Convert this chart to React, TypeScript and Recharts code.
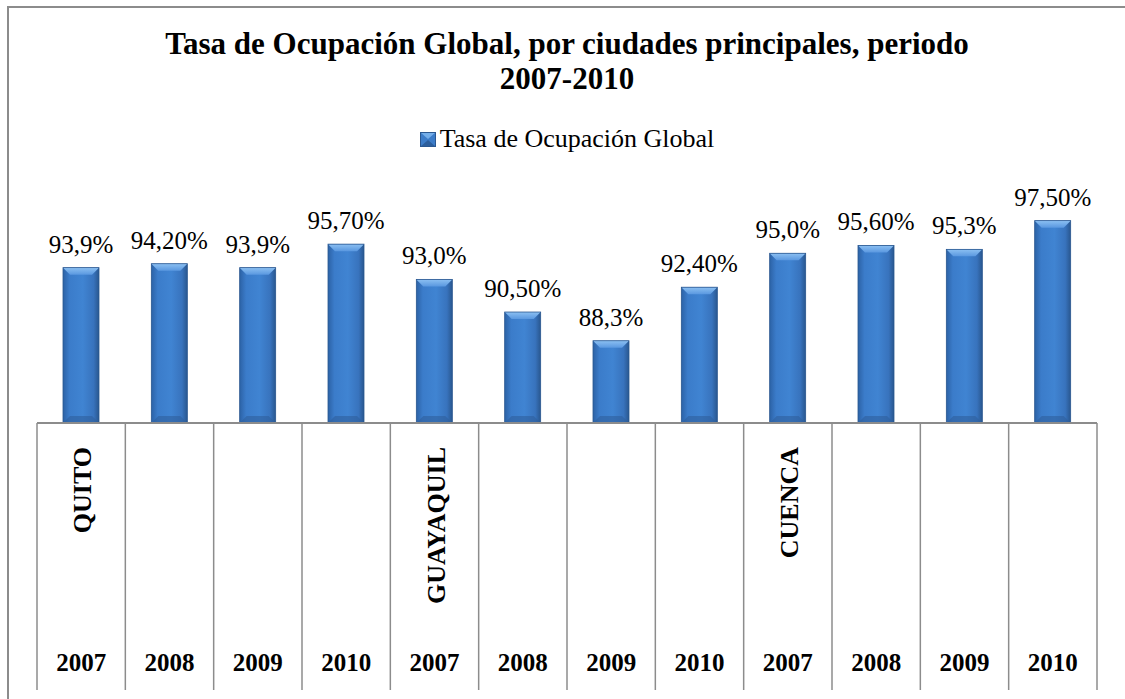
import { Bar, BarChart, LabelList, Legend, XAxis, YAxis } from 'recharts'

const years = ['2007', '2008', '2009', '2010', '2007', '2008', '2009', '2010', '2007', '2008', '2009', '2010']
const cities = ['QUITO', 'QUITO', 'QUITO', 'QUITO', 'GUAYAQUIL', 'GUAYAQUIL', 'GUAYAQUIL', 'GUAYAQUIL', 'CUENCA', 'CUENCA', 'CUENCA', 'CUENCA']
const rates = [93.9, 94.2, 93.9, 95.7, 93.0, 90.5, 88.3, 92.4, 95.0, 95.6, 95.3, 97.5]
const rateLabels = ['93,9%', '94,20%', '93,9%', '95,70%', '93,0%', '90,50%', '88,3%', '92,40%', '95,0%', '95,60%', '95,3%', '97,50%']

const SERIES = 'Tasa de Ocupación Global'
const FONT = '"Liberation Serif", "Times New Roman", serif'
const GRID = '#8c8c8c'

const W = 1125
const H = 699
const MARGIN = { top: 188, right: 28, bottom: 9, left: 37 }
const AXIS_H = 267
const BAND = (W - MARGIN.left - MARGIN.right) / rates.length

const data = rates.map((v, i) => ({
  key: `${cities[i]} ${years[i]}`,
  rate: v,
  label: rateLabels[i],
}))

function CategoryTick(props: any) {
  const { x, y, index } = props
  const left = x - BAND / 2
  const showCity = index === 0 || cities[index] !== cities[index - 1]
  return (
    <g>
      <line x1={left} y1={y} x2={left} y2={y + AXIS_H} stroke={GRID} strokeWidth={1.5} />
      {index === rates.length - 1 && (
        <line x1={left + BAND} y1={y} x2={left + BAND} y2={y + AXIS_H} stroke={GRID} strokeWidth={1.5} />
      )}
      {showCity && (
        <text
          x={x + 10}
          y={y + 24}
          transform={`rotate(-90 ${x + 10} ${y + 24})`}
          textAnchor="end"
          fontFamily={FONT}
          fontWeight="bold"
          fontSize={26}
          fill="#000"
        >
          {cities[index]}
        </text>
      )}
      <text x={x} y={y + 248} textAnchor="middle" fontFamily={FONT} fontWeight="bold" fontSize={25} fill="#000">
        {years[index]}
      </text>
    </g>
  )
}

function BevelBar(props: any) {
  const { x, y, width, height } = props
  const b = 7
  return (
    <g>
      <rect x={x} y={y} width={width} height={height} fill="url(#barBody)" />
      <polygon
        points={`${x},${y} ${x + width},${y} ${x + width - b},${y + b} ${x + b},${y + b}`}
        fill="url(#barTop)"
      />
      <polygon
        points={`${x},${y + height} ${x + width},${y + height} ${x + width - b},${y + height - b} ${x + b},${y + height - b}`}
        fill="#2e5f9c"
        opacity={0.6}
      />
      <rect x={x} y={y} width={width} height={height} fill="none" stroke="#2a5790" strokeWidth={0.8} />
    </g>
  )
}

function LegendContent() {
  return (
    <div style={{ display: 'flex', justifyContent: 'center', alignItems: 'center', fontFamily: FONT, fontSize: 26, lineHeight: '30px' }}>
      <svg width={16} height={15} style={{ marginRight: 4 }}>
        <rect x={0} y={0} width={16} height={15} fill="#3c7cc8" />
        <polygon points="0,0 16,0 8,7" fill="#74aee9" />
        <polygon points="0,15 16,15 8,8" fill="#2c5e9c" />
        <rect x={0.5} y={0.5} width={15} height={14} fill="none" stroke="#2a5790" />
      </svg>
      <span>{SERIES}</span>
    </div>
  )
}

export default function App() {
  return (
    <div style={{ position: 'absolute', left: 0, top: 0, width: W, height: H, background: '#fff' }}>
      <div
        style={{
          position: 'absolute',
          left: 7,
          top: 6,
          width: W,
          height: H,
          borderTop: `2px solid ${GRID}`,
          borderLeft: `2px solid ${GRID}`,
        }}
      />
      <div
        style={{
          position: 'absolute',
          left: 0,
          top: 26,
          width: 1134,
          textAlign: 'center',
          fontFamily: FONT,
          fontWeight: 'bold',
          fontSize: 31,
          lineHeight: '35px',
        }}
      >
        Tasa de Ocupación Global, por ciudades principales, periodo
        <br />
        2007-2010
      </div>
      <div style={{ position: 'absolute', left: 0, top: 0 }}>
        <BarChart width={W} height={H} data={data} margin={MARGIN} barCategoryGap={0}>
          <defs>
            <linearGradient id="barBody" x1="0" y1="0" x2="1" y2="0">
              <stop offset="0%" stopColor="#2c62a6" />
              <stop offset="18%" stopColor="#3b7cca" />
              <stop offset="55%" stopColor="#4084d2" />
              <stop offset="85%" stopColor="#3873bd" />
              <stop offset="100%" stopColor="#29578f" />
            </linearGradient>
            <linearGradient id="barTop" x1="0" y1="0" x2="0" y2="1">
              <stop offset="0%" stopColor="#8cc0f2" />
              <stop offset="100%" stopColor="#5a98e0" />
            </linearGradient>
          </defs>
          <XAxis
            dataKey="key"
            interval={0}
            height={AXIS_H}
            tickSize={0}
            tickMargin={0}
            tickLine={false}
            axisLine={{ stroke: GRID, strokeWidth: 2 }}
            tick={<CategoryTick />}
          />
          <YAxis hide domain={[82, 100]} />
          <Legend
            verticalAlign="middle"
            align="center"
            layout="horizontal"
            wrapperStyle={{ top: 124, left: 0, width: 1134 }}
            content={<LegendContent />}
          />
          <Bar dataKey="rate" name={SERIES} barSize={36} shape={<BevelBar />} isAnimationActive={false}>
            <LabelList
              dataKey="label"
              position="top"
              offset={15}
              style={{ fontFamily: FONT, fontSize: 25, fill: '#000' }}
            />
          </Bar>
        </BarChart>
      </div>
    </div>
  )
}
